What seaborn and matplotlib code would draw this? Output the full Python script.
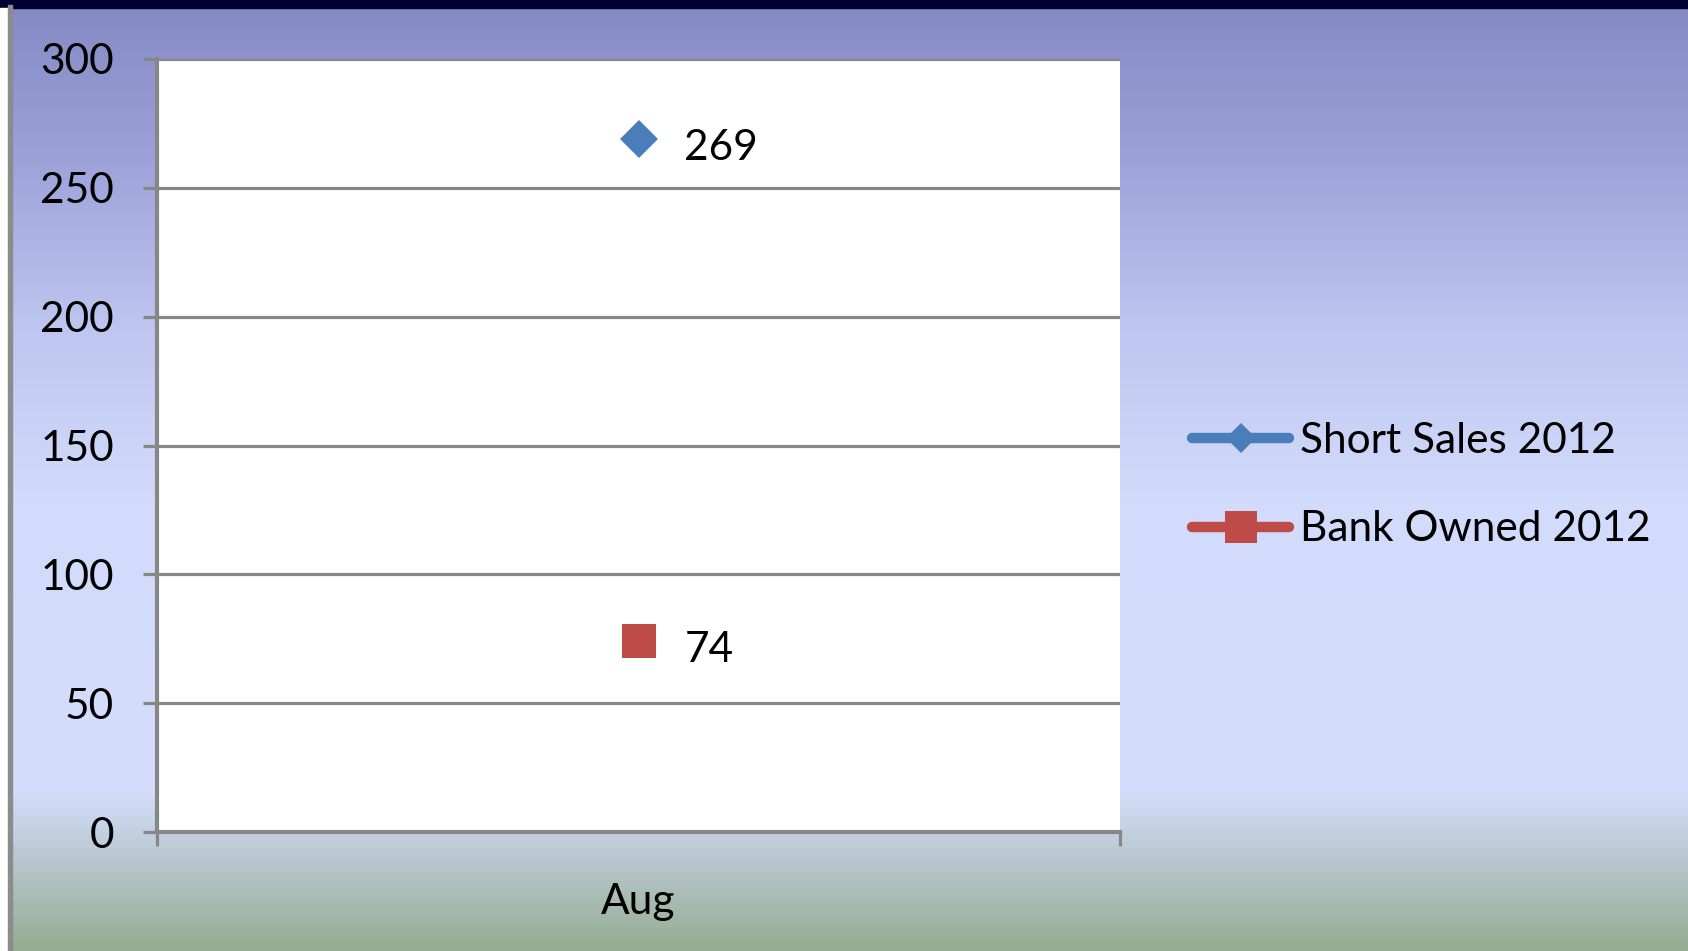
import numpy as np
import pandas as pd
import matplotlib.pyplot as plt
import seaborn as sns
from matplotlib.lines import Line2D
from matplotlib.patches import Rectangle
from matplotlib.ticker import FixedLocator

months = ["Aug"]
short_sales = [269]
bank_owned = [74]
series_names = ["Short Sales 2012", "Bank Owned 2012"]
y_ticks = [0, 50, 100, 150, 200, 250, 300]

colors = {"Short Sales 2012": "#4a7ebb", "Bank Owned 2012": "#be4b48"}
markers = {"Short Sales 2012": "D", "Bank Owned 2012": "s"}

df = pd.DataFrame({
    "month": months * 2,
    "value": short_sales + bank_owned,
    "series": [series_names[0]] * len(months) + [series_names[1]] * len(months),
})

sns.set_style("white")
plt.rcParams["font.family"] = ["Lato", "DejaVu Sans"]
plt.rcParams["text.color"] = "black"
plt.rcParams["xtick.labelcolor"] = "black"
plt.rcParams["ytick.labelcolor"] = "black"

W, H = 1688, 951
fs = 30.5
fig = plt.figure(figsize=(W / 100, H / 100), dpi=100)

# background gradient
bg = fig.add_axes([0, 0, 1, 1])
stops_y = [0, 150, 330, 500, 790, 840, 951]
stops_c = ["#8489c4", "#9ba0d8", "#bfc6f0", "#d2dbfb", "#d4defc", "#c0cddc", "#94ac90"]
rgb = np.array([plt.matplotlib.colors.to_rgb(c) for c in stops_c])
yy = np.arange(H)
grad = np.stack([np.interp(yy, stops_y, rgb[:, i]) for i in range(3)], axis=1)
bg.imshow(grad[:, None, :], aspect="auto", extent=[0, W, H, 0])
bg.add_patch(Rectangle((0, 0), W, 8, color="#000033"))
bg.add_patch(Rectangle((0, 8), 8, H, color="white"))
bg.add_patch(Rectangle((8, 5), 4, H, color="#8c8c8c"))
bg.set_xlim(0, W)
bg.set_ylim(H, 0)
bg.axis("off")

# plot area
left, right, top, bottom = 157, 1120, 59, 832
ax = fig.add_axes([left / W, 1 - bottom / H, (right - left) / W, (bottom - top) / H])
ax.set_facecolor("white")

sns.lineplot(data=df, x="month", y="value", hue="series", style="series",
             palette=colors, markers=markers, dashes=False, markersize=25,
             markeredgewidth=0, legend=False, ax=ax)
# diamond size tweak
for ln in ax.get_lines():
    if ln.get_marker() == "D":
        ln.set_markersize(19)

for i, m in enumerate(months):
    for vals in (short_sales, bank_owned):
        ax.annotate(str(vals[i]), (i, vals[i]), xytext=(33, -6.5), textcoords="offset points",
                    ha="left", va="center", fontsize=fs, color="black")

ax.set_xlim(-0.5, len(months) - 0.5)
ax.set_ylim(0, 300)
ax.set_yticks(y_ticks)
ax.set_xticks(range(len(months)))
ax.set_xticklabels(months)
ax.xaxis.set_minor_locator(FixedLocator([-0.5 + k for k in range(len(months) + 1)]))
ax.set_xlabel("")
ax.set_ylabel("")

grid_c = "#878787"
ax.yaxis.grid(True, color=grid_c, linewidth=2.3)
ax.set_axisbelow(True)
for s in ["top", "right"]:
    ax.spines[s].set_visible(False)
ax.spines["left"].set_color(grid_c)
ax.spines["left"].set_linewidth(3)
ax.spines["bottom"].set_color(grid_c)
ax.spines["bottom"].set_linewidth(3)
ax.tick_params(axis="y", which="major", length=10, width=2.3, color=grid_c,
               labelsize=fs, pad=21, left=True)
ax.tick_params(axis="x", which="major", length=0, labelsize=fs, pad=37)
ax.tick_params(axis="x", which="minor", length=10, width=2.3, color=grid_c, bottom=True)

handles = [Line2D([], [], color=colors[n], lw=7.5, marker=markers[n],
                  markersize=15 if markers[n] == "D" else 23, markeredgewidth=0,
                  solid_capstyle="round") for n in series_names]
fig.legend(handles, series_names, loc="center left", bbox_to_anchor=(1192 / W, 1 - 485 / H),
           frameon=False, fontsize=fs, handlelength=2.3, handletextpad=0.25,
           labelspacing=1.2, borderpad=0, borderaxespad=0)

fig.savefig("out.png", dpi=100)
